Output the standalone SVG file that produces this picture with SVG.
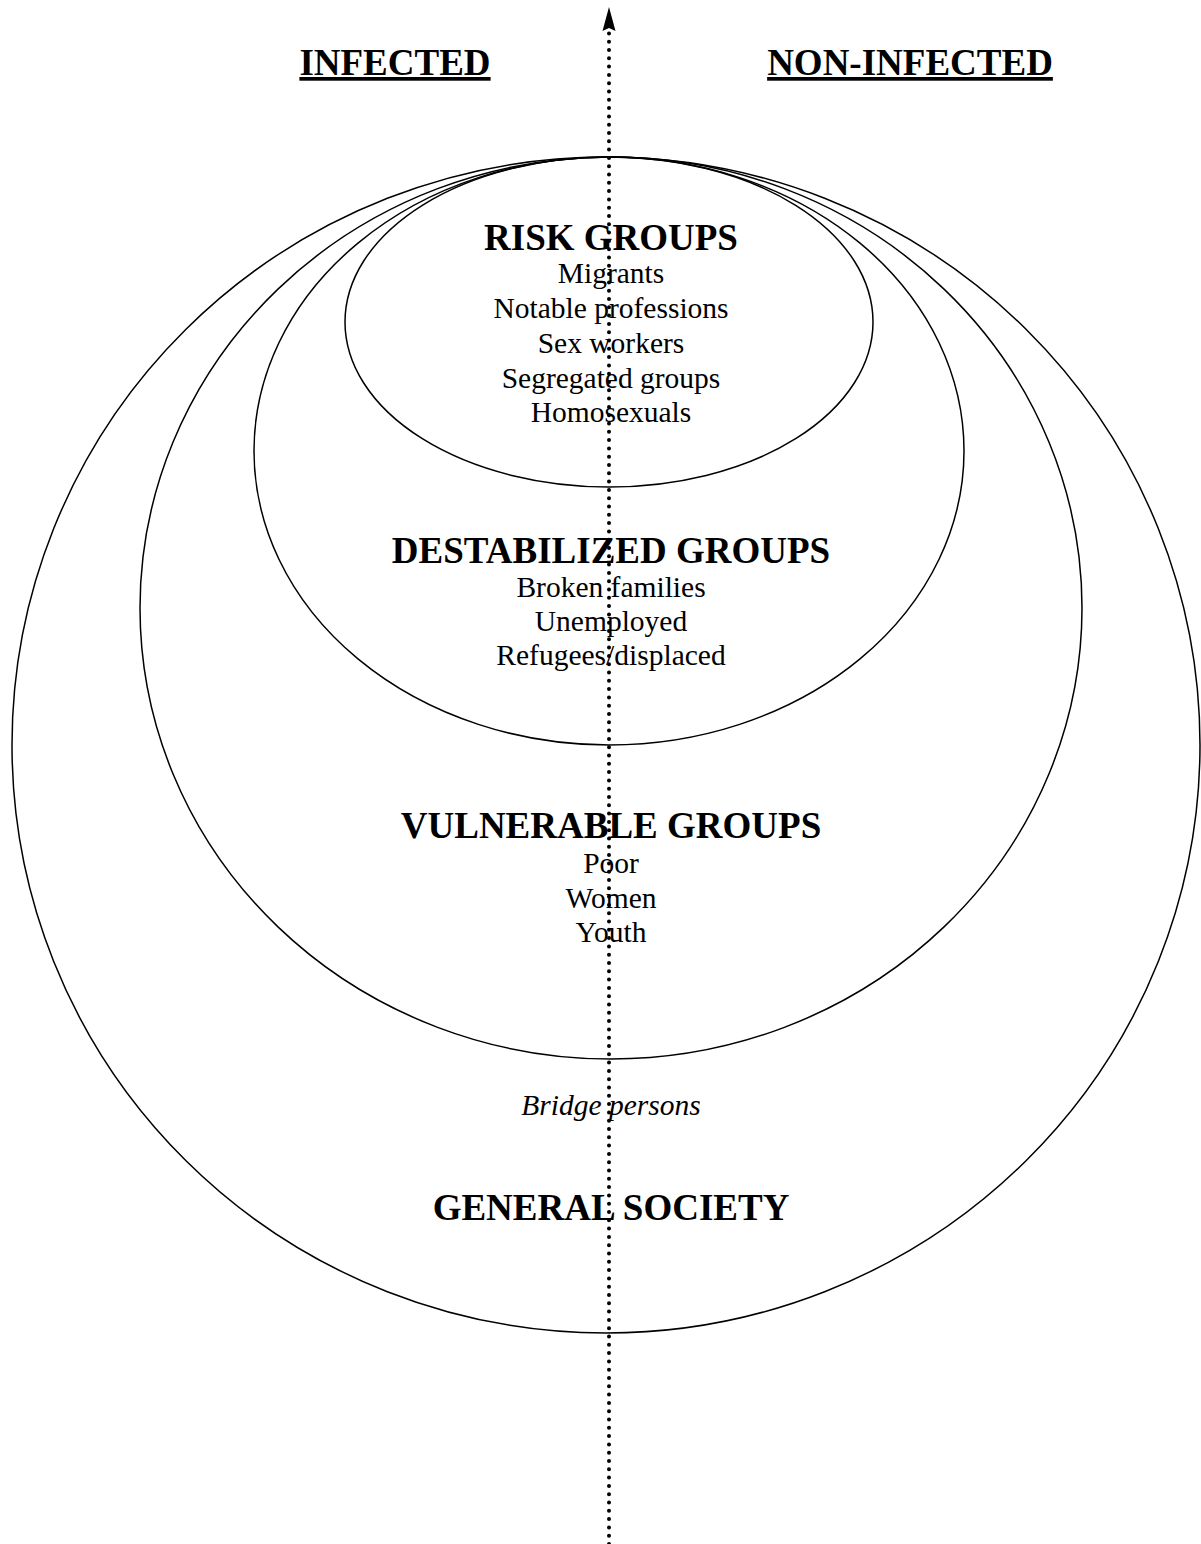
<svg xmlns="http://www.w3.org/2000/svg" width="1201" height="1544" viewBox="0 0 1201 1544">
<style>
.t{font-family:"Liberation Serif","Times New Roman",serif;fill:#000;text-anchor:middle}
.h{font-size:37px;font-weight:bold}
.b{font-size:29.5px}
.i{font-size:29.5px;font-style:italic}
.e{fill:none;stroke:#000;stroke-width:1.5}
</style>
<g id="headers">
<text class="t h" x="395" y="75" text-decoration="underline">INFECTED</text>
<text class="t h" x="910" y="75" text-decoration="underline">NON-INFECTED</text>
</g>
<g id="general-society">
<ellipse class="e" cx="606" cy="745" rx="594" ry="588" stroke-width="2"/>
<text class="t i" x="611" y="1115">Bridge persons</text>
<text class="t h" x="611" y="1220">GENERAL SOCIETY</text>
</g>
<g id="vulnerable-groups">
<ellipse class="e" cx="611" cy="608" rx="471" ry="451"/>
<text class="t h" x="611" y="838">VULNERABLE GROUPS</text>
<text class="t b" x="611" y="873">Poor</text>
<text class="t b" x="611" y="908">Women</text>
<text class="t b" x="611" y="942">Youth</text>
</g>
<g id="destabilized-groups">
<ellipse class="e" cx="609" cy="451" rx="355" ry="294"/>
<text class="t h" x="611" y="563">DESTABILIZED GROUPS</text>
<text class="t b" x="611" y="597">Broken families</text>
<text class="t b" x="611" y="631">Unemployed</text>
<text class="t b" x="611" y="665">Refugees/displaced</text>
</g>
<g id="risk-groups">
<ellipse class="e" cx="609" cy="322" rx="264" ry="165"/>
<text class="t h" x="611" y="250">RISK GROUPS</text>
<text class="t b" x="611" y="283">Migrants</text>
<text class="t b" x="611" y="318">Notable professions</text>
<text class="t b" x="611" y="353">Sex workers</text>
<text class="t b" x="611" y="388">Segregated groups</text>
<text class="t b" x="611" y="422">Homosexuals</text>
</g>
<g id="connectors">
<line x1="609" y1="1544" x2="609" y2="30" stroke="#000" stroke-width="4" stroke-linecap="round" stroke-dasharray="0 8.3"/>
<path d="M609,7 L615.5,31 L609,28 L602.5,31 Z" fill="#000"/>
</g>
</svg>
